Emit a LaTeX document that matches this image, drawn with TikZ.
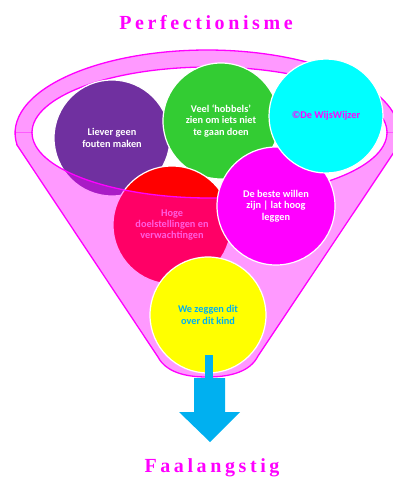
\documentclass[tikz,border=0pt]{standalone}
\usepackage{fontspec}
\setmainfont{Liberation Serif}
\newfontfamily\bubblefont{Carlito}
\newfontfamily\titlefont[LetterSpace=18]{Liberation Serif}
\usetikzlibrary{arrows.meta,positioning,calc}

\definecolor{funnelpink}{HTML}{FF99FF}
\definecolor{hotpink}{HTML}{FF00FF}
\definecolor{purplebub}{HTML}{7030A0}
\definecolor{greenbub}{HTML}{33CC33}
\definecolor{redbub}{HTML}{FF0000}
\definecolor{cyanbub}{HTML}{00FFFF}
\definecolor{yellowbub}{HTML}{FFFF00}
\definecolor{pinktext}{HTML}{FF99CC}
\definecolor{arrowblue}{HTML}{00B0F0}

% outline of the funnel (cone + top of the rim)
\newcommand{\funnelpath}{(17,145) -- (158,357) .. controls (166,372) and (185,377) .. (207,377) .. controls (230,377) and (250,372) .. (258,356) -- (393.4,153) arc[start angle=13.94, end angle=-188.3, x radius=192, y radius=83] -- cycle}
\newcommand{\innerrim}{(209.5,132.5) ellipse [x radius=177.5, y radius=65.5]}

\begin{document}
\begin{tikzpicture}[x=1pt, y=-1pt,
    bubble/.style={circle, draw=white, line width=1.2pt, minimum size=116pt, inner sep=0pt, align=center, text=white, font=\bubblefont\bfseries\fontsize{10.3}{11.4}\selectfont},
    rim/.style={draw=hotpink, line width=1.3pt},
    heading/.style={anchor=base, text=hotpink, font=\titlefont\bfseries\fontsize{20}{24}\selectfont}]

    \useasboundingbox (0,0) rectangle (392,477);

    % Titles
    \node[heading] (top) at (206,29.3) {Perfectionisme};
    \node[heading] (bottom) at (212,472.5) {Faalangstig};

    % Back of the funnel
    \begin{scope}
        \clip (0,0) rectangle (400,132.5);
        \fill[funnelpink, even odd rule] \funnelpath \innerrim;
        \draw[rim] \innerrim;
    \end{scope}

    % Bubbles behind the front
    \node[bubble, fill=purplebub] (fouten) at (112,138) {Liever geen\\fouten maken};
    \node[bubble, fill=greenbub] (hobbels) at (221,121) {Veel ‘hobbels’\\zien om iets niet\\te gaan doen};
    \node[bubble, fill=redbub, text=pinktext, minimum size=118pt] (doelen) at (172,225) {Hoge\\doelstellingen en\\verwachtingen};

    % Front of the funnel
    \begin{scope}
        \clip (0,132.5) rectangle (400,480);
        \fill[hotpink, fill opacity=0.4, even odd rule] \funnelpath \innerrim;
        \draw[rim] \innerrim;
    \end{scope}
    \draw[rim] \funnelpath;

    % Bubbles in front
    \node[bubble, fill=hotpink, minimum size=118pt] (beste) at (276,206) {De beste willen\\zijn | lat hoog\\leggen};
    \node[bubble, fill=cyanbub, text=hotpink, minimum size=114pt] (wijs) at (326,116) {©De WijsWijzer};
    \node[bubble, fill=yellowbub, text=arrowblue] (kind) at (208,315) {We zeggen dit\\over dit kind};

    % Arrow out of the funnel
    \coordinate (spout) at (209.5,378);
    \fill[arrowblue] (205,355) rectangle (213,380);
    \fill[arrowblue] ($(spout)+(-15.5,0)$) -- ++(31,0) -- ++(0,34) -- ++(15,0) -- ($(spout)+(0.5,64)$) -- ($(spout)+(-30.5,34)$) -- ++(15,0) -- cycle;

\end{tikzpicture}
\end{document}
